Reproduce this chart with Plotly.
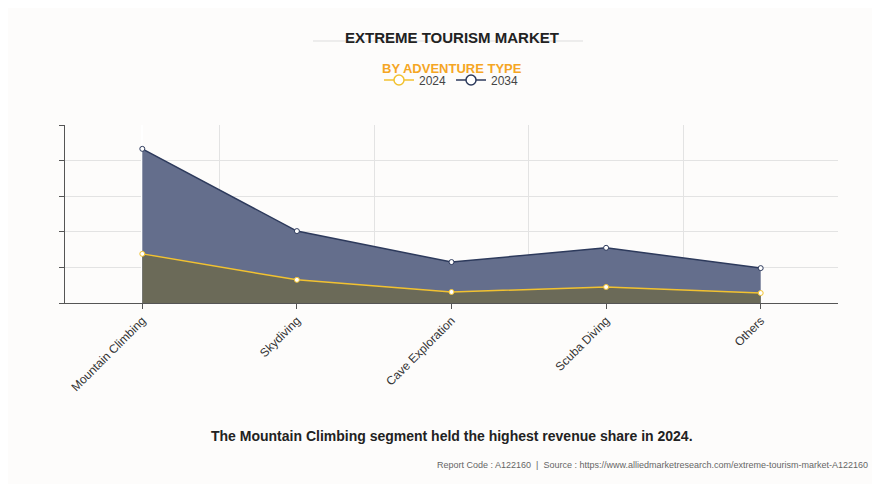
import plotly.graph_objects as go

categories = ["Mountain Climbing", "Skydiving", "Cave Exploration", "Scuba Diving", "Others"]
values_2024 = [1.38, 0.65, 0.31, 0.45, 0.28]
values_2034 = [4.33, 2.02, 1.15, 1.55, 0.98]
xpos = list(range(len(categories)))

c24, c34 = "#f2c230", "#2d3a5c"

fig = go.Figure()
fig.add_trace(go.Scatter(x=xpos, y=values_2034, name="2034", mode="lines+markers",
                         fill="tozeroy", fillcolor="#646e8c", showlegend=False,
                         line=dict(color=c34, width=1.5),
                         marker=dict(size=5, color="white", line=dict(color=c34, width=1))))
fig.add_trace(go.Scatter(x=xpos, y=values_2024, name="2024", mode="lines+markers",
                         fill="tozeroy", fillcolor="#6b6a58", showlegend=False,
                         line=dict(color=c24, width=1.5),
                         marker=dict(size=5, color="white", line=dict(color=c24, width=1))))
# legend-only entries
for name, col in [("2024", c24), ("2034", c34)]:
    fig.add_trace(go.Scatter(x=[None], y=[None], name=name, mode="lines+markers",
                             line=dict(color=col, width=1.5),
                             marker=dict(size=10, color="white", line=dict(color=col, width=1.5))))

fig.update_layout(
    width=880, height=484,
    paper_bgcolor="#fdfcfb", plot_bgcolor="#fdfcfb",
    margin=dict(l=57, r=50, t=117, b=189, autoexpand=False),
    font=dict(family="Liberation Sans, Arial", color="#333"),
    showlegend=True,
    legend=dict(orientation="h", x=0.5, xanchor="center", yanchor="middle",
                font=dict(size=12, color="#444"), bgcolor="rgba(0,0,0,0)", itemwidth=30),
    xaxis=dict(range=[-0.5, 4.5], tickvals=xpos, ticktext=categories, tickangle=-45,
               showgrid=False, showline=True, linecolor="#555", ticks="outside",
               ticklen=5, tickcolor="#555", tickfont=dict(size=12, color="#333"),
               minor=dict(tickvals=[-0.5, 0.5, 1.5, 2.5, 3.5, 4.5], showgrid=True,
                          gridcolor="#e3e3e3", ticks="")),
    yaxis=dict(range=[0, 5], dtick=1, showticklabels=False, showgrid=True, gridcolor="#e3e3e3",
               showline=True, linecolor="#555", ticks="outside", ticklen=5, tickcolor="#555",
               zeroline=False),
)

ph = 484 - 117 - 189
def py(pix):
    return (484 - 189 - pix) / ph
def px(pix):
    return (pix - 57) / (880 - 57 - 50)

fig.layout.legend.y = py(72)
fig.update_layout(
    annotations=[
        dict(text="<b>EXTREME TOURISM MARKET</b>", x=0.5, y=py(19), xref="paper", yref="paper",
             showarrow=False, font=dict(size=15, color="#222")),
        dict(text="<b>BY ADVENTURE TYPE</b>", x=0.5, y=py(51), xref="paper", yref="paper",
             showarrow=False, font=dict(size=13, color="#f5a623")),
        dict(text="<b>The Mountain Climbing segment held the highest revenue share in 2024.</b>",
             x=0.5, y=py(438), xref="paper", yref="paper", showarrow=False,
             font=dict(size=14, color="#222")),
        dict(text="Report Code : A122160  |  Source : https://www.alliedmarketresearch.com/extreme-tourism-market-A122160",
             x=px(862), y=py(464), xref="paper", yref="paper", xanchor="right", showarrow=False,
             font=dict(size=9, color="#666")),
    ],
    shapes=[dict(type="line", xref="paper", yref="paper", x0=px(305), x1=px(575),
                 y0=py(33), y1=py(33), line=dict(color="#ddd", width=1))],
)

fig.write_html("out.html")
